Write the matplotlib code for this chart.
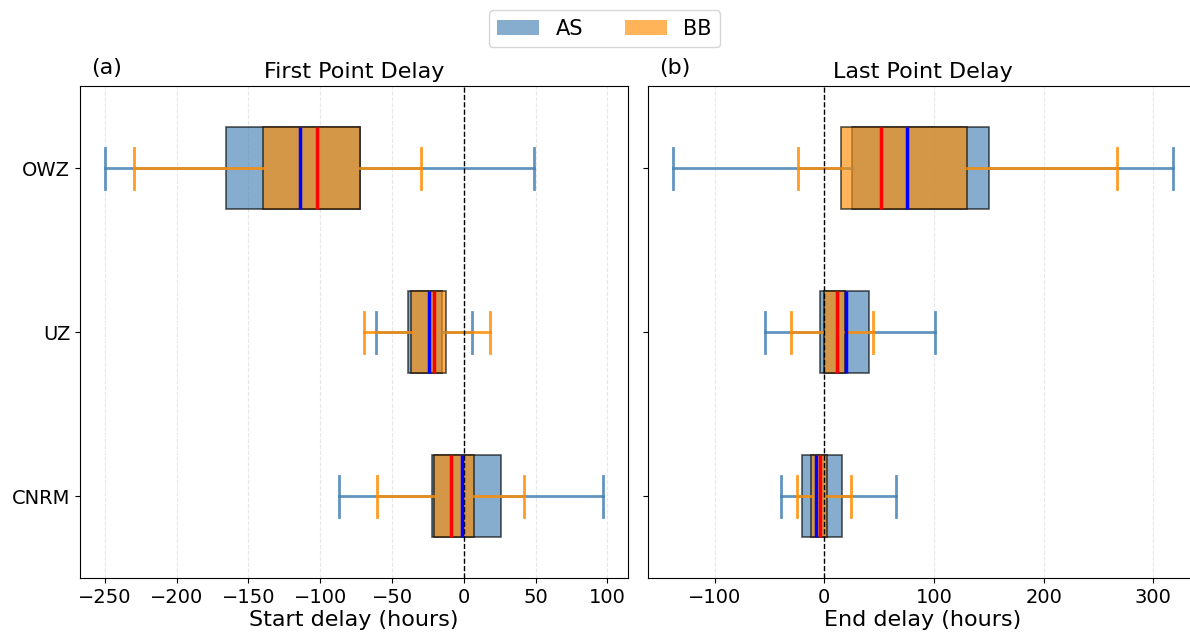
import matplotlib
matplotlib.use("Agg")
import matplotlib.pyplot as plt
from matplotlib.patches import Patch

categories = ["CNRM", "UZ", "OWZ"]

# First Point Delay (start delay, hours)
as_start_lo = [-87, -61, -250]
as_start_q1 = [-22, -39, -166]
as_start_med = [-1.5, -24, -114]
as_start_q3 = [26, -15, -72]
as_start_hi = [97, 6, 49]

bb_start_lo = [-60.5, -69.5, -230]
bb_start_q1 = [-21, -36.5, -140]
bb_start_med = [-9, -21, -102]
bb_start_q3 = [7, -12.5, -72]
bb_start_hi = [42, 18, -30]

# Last Point Delay (end delay, hours)
as_end_lo = [-39.5, -54, -138]
as_end_q1 = [-20, -3.5, 25]
as_end_med = [-8, 20, 75]
as_end_q3 = [16.5, 41, 150]
as_end_hi = [65, 101, 318]

bb_end_lo = [-25, -30.5, -24]
bb_end_q1 = [-12, -0.5, 15.5]
bb_end_med = [-3.5, 11.5, 52]
bb_end_q3 = [2, 19, 130]
bb_end_hi = [24, 44.5, 266.5]

AS_COLOR = "steelblue"
BB_COLOR = "darkorange"
ALPHA = 0.65


def make_stats(lo, q1, med, q3, hi):
    return [dict(whislo=a, q1=b, med=c, q3=d, whishi=e, fliers=[], label=lab)
            for a, b, c, d, e, lab in zip(lo, q1, med, q3, hi, categories)]


def draw(ax, stats, color, medcolor):
    bp = ax.bxp(stats, positions=range(1, len(categories) + 1), vert=False,
                widths=0.5, patch_artist=True, showfliers=False,
                boxprops=dict(facecolor=color, edgecolor="black", linewidth=1.2),
                whiskerprops=dict(color=color, linewidth=2),
                capprops=dict(color=color, linewidth=2),
                medianprops=dict(color=medcolor, linewidth=2.5))
    for b in bp["boxes"]:
        b.set_alpha(ALPHA)
    for w in bp["whiskers"] + bp["caps"]:
        w.set_alpha(0.85)
    return bp


fig = plt.figure(figsize=(11.9, 6.32), dpi=100)
W, H = 1190, 632
ax1 = fig.add_axes([80 / W, (H - 578) / H, 548 / W, 492 / H])
ax2 = fig.add_axes([648 / W, (H - 578) / H, 550 / W, 492 / H])

draw(ax1, make_stats(as_start_lo, as_start_q1, as_start_med, as_start_q3, as_start_hi), AS_COLOR, "blue")
draw(ax1, make_stats(bb_start_lo, bb_start_q1, bb_start_med, bb_start_q3, bb_start_hi), BB_COLOR, "red")
draw(ax2, make_stats(as_end_lo, as_end_q1, as_end_med, as_end_q3, as_end_hi), AS_COLOR, "blue")
draw(ax2, make_stats(bb_end_lo, bb_end_q1, bb_end_med, bb_end_q3, bb_end_hi), BB_COLOR, "red")

for ax, title, xlabel, tag in [(ax1, "First Point Delay", "Start delay (hours)", "(a)"),
                               (ax2, "Last Point Delay", "End delay (hours)", "(b)")]:
    ax.axvline(0, color="black", linestyle="--", linewidth=1)
    ax.grid(axis="x", linestyle="--", alpha=0.3)
    ax.set_axisbelow(True)
    ax.set_title(title, fontsize=16)
    ax.set_xlabel(xlabel, fontsize=16, labelpad=2)
    ax.text(0.02, 1.025, tag, transform=ax.transAxes, fontsize=16, va="baseline")
    ax.tick_params(axis="both", labelsize=14)
    ax.set_ylim(0.5, 3.5)
    ax.margins(x=0.05)

ax1.set_yticks([1, 2, 3])
ax1.set_yticklabels(categories)
ax2.set_yticks([1, 2, 3])
ax2.set_yticklabels([])

handles = [Patch(facecolor=AS_COLOR, alpha=ALPHA, label="AS"),
           Patch(facecolor=BB_COLOR, alpha=ALPHA, label="BB")]
fig.legend(handles=handles, loc="upper center", bbox_to_anchor=(0.508, 1.0),
           ncol=2, fontsize=15)

fig.savefig("out.png", dpi=100)
